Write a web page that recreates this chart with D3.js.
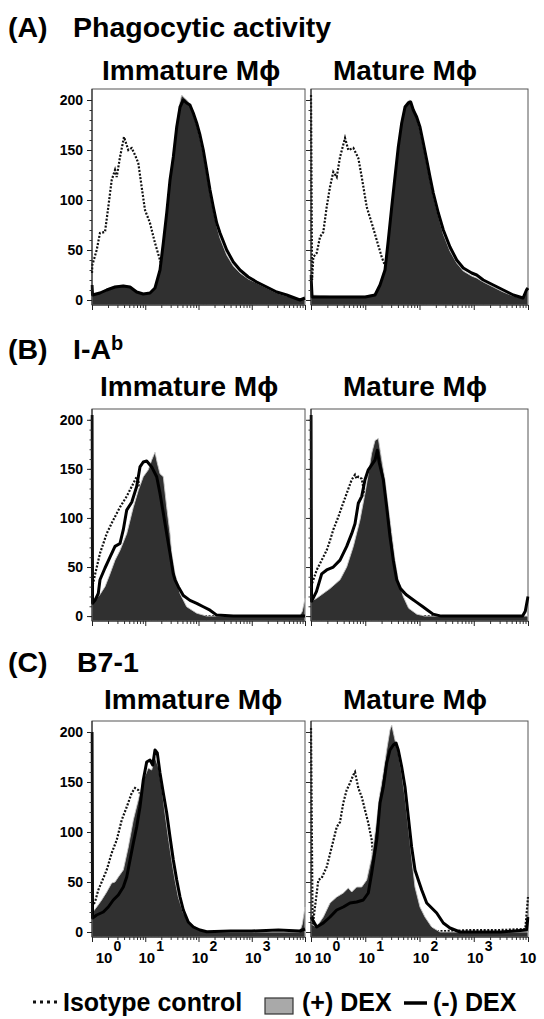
<!DOCTYPE html>
<html><head><meta charset="utf-8">
<script src="https://cdn.jsdelivr.net/npm/d3@7"></script>
<style>
body{margin:0;background:#fff}
svg{display:block}
text{font-family:"Liberation Sans",Arial,Helvetica,sans-serif;font-weight:bold;fill:#000}
</style>
</head><body><svg id="c" width="544" height="1019"></svg>
<script>
// ---------- labels ----------
const rowTitles = ["(A)", "(B)", "(C)"];
const rowNames = ["Phagocytic activity", "I-A", "B7-1"];
const rowSups = ["", "b", ""];
const colTitles = ["Immature M\u03D5", "Mature M\u03D5"];
const yTickValues = [0, 50, 100, 150, 200];
const xDecades = [0, 1, 2, 3, 4];
const legendLabels = ["Isotype control", "(+) DEX", "(-) DEX"];

// ---------- data: [log10 fluorescence, cell count] ----------
// (A) Phagocytic activity – Immature
const aIsoImm = [[0,27],[0.006,35],[0.088,50],[0.15,67],[0.244,68],[0.306,93],[0.37,120],[0.432,130],[0.464,123],[0.526,143],[0.601,163],[0.682,150],[0.746,152],[0.808,145],[0.869,137],[0.933,113],[0.995,90],[1.089,77],[1.183,57],[1.277,40],[1.339,30],[1.465,12],[1.653,3],[1.9,0],[2.5,0]];
const aPlusImm = [[0,6],[0.15,8],[0.276,11],[0.432,14],[0.588,15],[0.714,13],[0.839,9],[0.963,6],[1.089,7],[1.183,12],[1.277,32],[1.339,60],[1.403,90],[1.465,122],[1.527,147],[1.591,177],[1.653,198],[1.684,205],[1.715,203],[1.778,200],[1.84,196],[1.902,186],[1.966,175],[2.028,162],[2.09,147],[2.154,127],[2.216,107],[2.278,90],[2.342,74],[2.404,62],[2.53,45],[2.654,34],[2.779,27],[2.935,21],[3.093,17],[3.281,12],[3.469,7],[3.656,4],[3.906,1],[4,2]];
const aMinusImm = [[0,15],[0.01,5],[0.15,7],[0.276,10],[0.432,13],[0.588,14],[0.714,13],[0.839,8],[0.963,6],[1.089,7],[1.183,12],[1.277,30],[1.339,57],[1.403,87],[1.465,120],[1.527,143],[1.591,173],[1.653,193],[1.715,200],[1.778,197],[1.84,195],[1.902,187],[1.966,177],[2.028,165],[2.09,150],[2.154,130],[2.216,110],[2.278,93],[2.342,77],[2.404,67],[2.53,50],[2.654,38],[2.779,30],[2.935,23],[3.093,18],[3.281,13],[3.469,8],[3.656,5],[3.906,0],[4,2]];
// (A) Phagocytic activity – Mature
const aIsoMat = [[0,205],[0.02,20],[0.042,43],[0.105,47],[0.166,63],[0.227,68],[0.289,93],[0.35,113],[0.411,128],[0.474,123],[0.535,143],[0.627,162],[0.688,150],[0.78,152],[0.872,142],[0.935,123],[1.027,93],[1.119,77],[1.211,60],[1.303,43],[1.395,30],[1.488,20],[1.641,12],[1.733,10],[1.825,5],[2.009,0],[2.378,1],[3,1],[3.5,1],[3.972,2],[4,2]];
const aPlusMat = [[0,5],[0.35,4],[1.0,4],[1.18,6],[1.272,17],[1.364,33],[1.425,63],[1.488,96],[1.548,126],[1.609,156],[1.672,180],[1.733,195],[1.794,199],[1.825,200],[1.838,199],[1.886,192],[1.948,182],[2.009,170],[2.07,154],[2.133,137],[2.194,120],[2.254,104],[2.347,84],[2.439,66],[2.562,49],[2.686,37],[2.807,29],[2.962,24],[3.054,22],[3.176,18],[3.36,13],[3.545,8],[3.729,4],[3.909,2],[3.972,8],[4,10]];
const aMinusMat = [[0,25],[0.02,3],[0.35,3],[1.0,3],[1.18,5],[1.272,15],[1.364,30],[1.425,60],[1.488,93],[1.548,123],[1.609,153],[1.672,177],[1.733,193],[1.794,197],[1.838,198],[1.886,190],[1.948,183],[2.009,173],[2.07,157],[2.133,140],[2.194,123],[2.254,107],[2.347,87],[2.439,70],[2.562,53],[2.686,40],[2.807,32],[2.962,27],[3.054,25],[3.176,20],[3.36,15],[3.545,10],[3.729,5],[3.909,2],[3.972,10],[4,12]];
// (B) I-Ab – Immature
const bIsoImm = [[0,28],[0.056,42],[0.15,64],[0.276,84],[0.4,98],[0.526,111],[0.652,122],[0.746,132],[0.839,142],[0.869,138],[0.901,130],[0.995,110],[1.089,90],[1.183,70],[1.277,50],[1.371,30],[1.465,15],[1.591,5],[1.8,0],[2.5,0]];
const bPlusImm = [[0,18],[0.056,18],[0.118,20],[0.15,22],[0.244,30],[0.338,43],[0.432,57],[0.526,67],[0.652,84],[0.776,111],[0.869,128],[0.963,142],[1.057,149],[1.121,159],[1.183,167],[1.226,156],[1.277,145],[1.339,142],[1.403,111],[1.465,84],[1.497,64],[1.559,43],[1.591,37],[1.653,23],[1.778,9.5],[1.966,3],[2.154,0],[3.9,0],[3.95,5],[4,18]];
const bMinusImm = [[0,205],[0.01,13],[0.056,16],[0.118,23],[0.15,37],[0.244,49],[0.338,60],[0.432,71],[0.526,74],[0.588,88],[0.652,108],[0.746,116],[0.839,132],[0.901,152],[0.963,157],[1.027,158],[1.121,152],[1.215,142],[1.277,125],[1.339,105],[1.403,84],[1.465,64],[1.527,43],[1.559,37],[1.621,30],[1.715,21],[1.84,16],[1.966,13],[2.09,9.5],[2.216,6],[2.342,1],[2.654,0],[4,0]];
// (B) I-Ab – Mature
const bIsoMat = [[0,30],[0.105,47],[0.197,57],[0.289,67],[0.35,77],[0.411,88],[0.503,101],[0.566,111],[0.658,125],[0.75,139],[0.811,144],[0.842,140],[0.872,142],[0.935,140],[1.0,120],[1.1,90],[1.2,60],[1.3,30],[1.4,10],[1.6,0],[2.5,0]];
const bPlusMat = [[0,15],[0.1,18],[0.2,22],[0.35,28],[0.535,37],[0.658,50],[0.78,71],[0.903,98],[0.995,125],[1.056,145],[1.119,166],[1.18,179],[1.241,181],[1.303,159],[1.364,139],[1.425,111],[1.488,84],[1.548,57],[1.609,37],[1.7,20],[1.8,8],[1.95,2],[2.1,0],[4,0]];
const bMinusMat = [[0,205],[0.01,15],[0.1,25],[0.197,43],[0.289,47],[0.411,50],[0.535,57],[0.658,71],[0.75,84],[0.811,94],[0.872,115],[0.935,122],[0.995,139],[1.056,149],[1.119,154],[1.18,159],[1.222,169],[1.259,156],[1.333,139],[1.395,111],[1.456,81],[1.517,57],[1.58,37],[1.65,28],[1.75,22],[1.85,18],[1.95,14],[2.05,10],[2.15,6],[2.25,2],[2.4,0],[3.9,0],[3.95,5],[4,20]];
// (C) B7-1 – Immature
const cIsoImm = [[0,25],[0.056,30],[0.118,42],[0.182,50],[0.276,62],[0.37,79],[0.464,92],[0.558,112],[0.652,125],[0.746,139],[0.808,144],[0.869,142],[0.93,135],[1.0,120],[1.1,100],[1.2,70],[1.3,40],[1.4,20],[1.5,8],[1.65,2],[1.8,0],[2.5,0]];
const cPlusImm = [[0,19],[0.088,25],[0.182,32],[0.276,40],[0.37,49],[0.432,50],[0.494,55],[0.588,62],[0.682,85],[0.776,112],[0.869,132],[0.963,152],[1.057,164],[1.121,162],[1.183,175],[1.245,165],[1.309,145],[1.371,119],[1.433,95],[1.497,72],[1.559,52],[1.621,35],[1.715,19],[1.84,9],[2.028,2],[2.154,0],[3.9,0],[3.95,8],[4,25]];
const cMinusImm = [[0,200],[0.01,14],[0.088,17],[0.212,20],[0.306,25],[0.4,32],[0.494,37],[0.588,45],[0.652,55],[0.714,72],[0.776,89],[0.839,105],[0.901,125],[0.963,152],[1.027,170],[1.089,172],[1.14,167],[1.183,182],[1.226,179],[1.277,159],[1.339,139],[1.403,119],[1.465,95],[1.527,72],[1.591,52],[1.653,35],[1.715,22],[1.808,10],[1.902,5],[2.028,2],[2.154,0.3],[2.6,1],[3.0,1],[3.5,2],[3.9,1],[4,3]];
// (C) B7-1 – Mature
const cIsoMat = [[0,204],[0.03,6],[0.135,52],[0.197,54],[0.289,65],[0.382,85],[0.474,105],[0.535,110],[0.595,129],[0.658,142],[0.719,149],[0.78,157],[0.811,160],[0.872,144],[0.935,135],[0.995,122],[1.056,109],[1.119,92],[1.148,75],[1.2,55],[1.3,30],[1.4,12],[1.6,3],[2.0,1],[2.5,1],[3.0,2],[3.5,2],[3.95,3],[4,35]];
const cPlusMat = [[0,8],[0.1,5],[0.227,15],[0.35,29],[0.474,35],[0.595,39],[0.688,44],[0.75,40],[0.842,45],[0.935,45],[1.027,52],[1.119,75],[1.198,105],[1.259,135],[1.333,159],[1.395,182],[1.456,202],[1.488,207],[1.548,192],[1.609,179],[1.672,159],[1.733,135],[1.794,105],[1.855,75],[1.917,45],[2.009,25],[2.101,15],[2.225,5],[2.378,0],[4,0]];
const cMinusMat = [[0,15],[0.105,5],[0.227,9],[0.35,15],[0.474,22],[0.595,25],[0.719,29],[0.842,30],[0.964,32],[1.056,39],[1.119,59],[1.211,92],[1.272,129],[1.333,145],[1.395,169],[1.456,182],[1.517,187],[1.567,189],[1.609,182],[1.672,165],[1.733,145],[1.794,115],[1.855,85],[1.917,62],[1.978,52],[2.041,42],[2.133,29],[2.225,24],[2.317,19],[2.439,9],[2.562,4],[2.747,0],[3.5,0],[3.972,2],[4,15]];

// ---------- layout ----------
const rows = [
  {top: 89, bottom: 305, titleY: 37, subY: 80, subX: [102, 333]},
  {top: 409, bottom: 621, titleY: 359, subY: 396, subX: [100, 343]},
  {top: 721, bottom: 937, titleY: 672, subY: 709, subX: [104, 343]}
];
const cols = [{left: 92, right: 305}, {left: 311, right: 528}];
const panels = [
  {r:0,c:0,iso:aIsoImm,plus:aPlusImm,minus:aMinusImm},
  {r:0,c:1,iso:aIsoMat,plus:aPlusMat,minus:aMinusMat},
  {r:1,c:0,iso:bIsoImm,plus:bPlusImm,minus:bMinusImm},
  {r:1,c:1,iso:bIsoMat,plus:bPlusMat,minus:bMinusMat},
  {r:2,c:0,iso:cIsoImm,plus:cPlusImm,minus:cMinusImm},
  {r:2,c:1,iso:cIsoMat,plus:cPlusMat,minus:cMinusMat}
];

const svg = d3.select("#c");
const defs = svg.append("defs");

// row titles
rows.forEach((rw, i) => {
  svg.append("text").attr("x", 8).attr("y", rw.titleY).attr("font-size", 28.5).text(rowTitles[i]);
  const t = svg.append("text").attr("x", i === 2 ? 77 : 73).attr("y", rw.titleY).attr("font-size", 28.5).text(rowNames[i]);
  if (rowSups[i]) t.append("tspan").attr("font-size", 20).attr("dy", -9).text(rowSups[i]);
  colTitles.forEach((ct, j) => {
    svg.append("text").attr("x", rw.subX[j]).attr("y", rw.subY).attr("font-size", 28).text(ct);
  });
});

const decadeMinor = d3.range(0, 4).flatMap(k => d3.range(2, 10).map(m => m * Math.pow(10, k)));

panels.forEach((p, idx) => {
  const rw = rows[p.r], cl = cols[p.c];
  const x = d3.scaleLog().domain([1, 1e4]).range([cl.left, cl.right]);
  const y = d3.scaleLinear().domain([-5, 211]).range([rw.bottom, rw.top]);
  const g = svg.append("g");
  const cid = "clip" + idx;
  defs.append("clipPath").attr("id", cid).append("rect")
    .attr("x", cl.left - 1.5).attr("y", rw.top).attr("width", cl.right - cl.left + 3).attr("height", rw.bottom - rw.top);

  g.append("rect").attr("x", cl.left).attr("y", rw.top).attr("width", cl.right - cl.left)
    .attr("height", rw.bottom - rw.top).attr("fill", "#fff").attr("stroke", "#555").attr("stroke-width", 1);

  const px = d => x(Math.pow(10, d[0]));
  const plot = g.append("g").attr("clip-path", `url(#${cid})`);
  const line = d3.line().x(px).y(d => y(d[1]));
  const area = d3.area().x(px).y0(y(-5)).y1(d => y(d[1]));

  plot.append("path").datum(p.iso).attr("d", line).attr("fill", "none")
    .attr("stroke", "#111").attr("stroke-width", 2.2).attr("stroke-dasharray", "2 1.6");
  plot.append("path").datum(p.plus).attr("d", area).attr("fill", "#303030")
    .attr("stroke", "#c8c8c8").attr("stroke-width", 0.9);
  plot.append("path").datum(p.minus).attr("d", line).attr("fill", "none")
    .attr("stroke", "#000").attr("stroke-width", 3).attr("stroke-linejoin", "round");

  // y axis
  const yMinor = d3.range(0, 201, 10);
  g.append("g").attr("transform", `translate(${cl.left},0)`)
    .call(d3.axisLeft(y).tickValues(yMinor).tickSize(2.5).tickFormat(""))
    .call(a => a.select(".domain").remove())
    .selectAll("line").attr("stroke", "#333");
  const ya = g.append("g").attr("transform", `translate(${cl.left},0)`)
    .call(d3.axisLeft(y).tickValues(yTickValues).tickSize(5).tickPadding(4)
      .tickFormat(p.c === 0 ? d3.format("d") : ""));
  ya.select(".domain").attr("d", `M0,${rw.top}V${rw.bottom}`).attr("stroke", "#222");
  ya.selectAll("line").attr("stroke", "#222");
  ya.selectAll("text").attr("font-size", 14).attr("font-family", "Liberation Sans, Arial, sans-serif")
    .attr("font-weight", "bold").attr("fill", "#000");

  // x axis
  g.append("g").attr("transform", `translate(0,${rw.bottom})`)
    .call(d3.axisBottom(x).tickValues(decadeMinor).tickSize(3).tickFormat(""))
    .call(a => a.select(".domain").remove())
    .selectAll("line").attr("stroke", "#333");
  const xa = g.append("g").attr("transform", `translate(0,${rw.bottom})`)
    .call(d3.axisBottom(x).tickValues(xDecades.map(k => Math.pow(10, k))).tickSize(5).tickFormat(""));
  xa.select(".domain").attr("d", `M${cl.left},0H${cl.right}`).attr("stroke", "#222");
  xa.selectAll("line").attr("stroke", "#222");

  if (p.r === 2) {
    xDecades.forEach(k => {
      const last = k === xDecades[xDecades.length - 1];
      let tx = Math.max(x(Math.pow(10, k)) + 1.5, cl.left + 12);
      if (last) tx = x(Math.pow(10, k)) - (p.c === 0 ? 2 : 0);
      g.append("text").attr("x", tx).attr("y", rw.bottom + 26).attr("text-anchor", "middle")
        .attr("font-size", 15).text("10");
      if (!last) g.append("text").attr("x", tx + 9.5).attr("y", rw.bottom + 14).attr("font-size", 14).text(String(k));
    });
  }
});

// legend
const lg = svg.append("g");
lg.append("line").attr("x1", 33).attr("x2", 57).attr("y1", 1002).attr("y2", 1002)
  .attr("stroke", "#111").attr("stroke-width", 3).attr("stroke-dasharray", "3 4");
lg.append("text").attr("x", 63).attr("y", 1011).attr("font-size", 25).text(legendLabels[0]);
lg.append("rect").attr("x", 265).attr("y", 998).attr("width", 28).attr("height", 16)
  .attr("fill", "#a9a9a9").attr("stroke", "#333").attr("stroke-width", 1.2);
lg.append("text").attr("x", 302).attr("y", 1011).attr("font-size", 25).text(legendLabels[1]);
lg.append("line").attr("x1", 404).attr("x2", 427).attr("y1", 1003).attr("y2", 1003)
  .attr("stroke", "#000").attr("stroke-width", 3.5);
lg.append("text").attr("x", 433).attr("y", 1011).attr("font-size", 25).text(legendLabels[2]);
</script>
</body></html>
